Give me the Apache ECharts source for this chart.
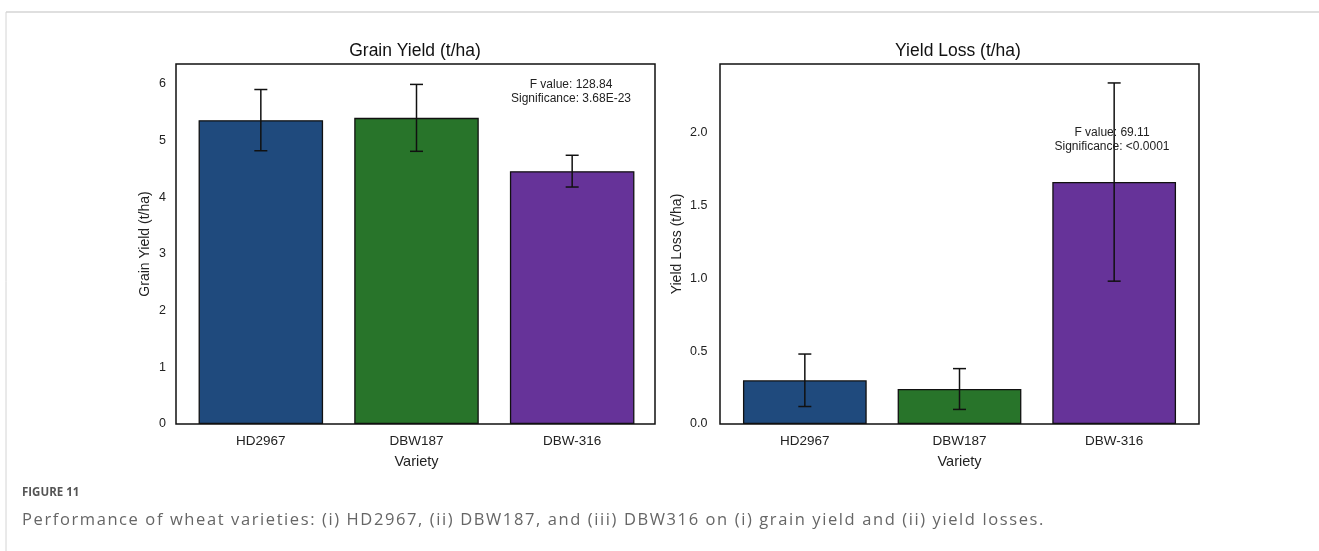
<!DOCTYPE html>
<html>
<head>
<meta charset="utf-8">
<title>Wheat varieties: grain yield and yield loss</title>
<script src="https://cdn.jsdelivr.net/npm/echarts@6/dist/echarts.min.js"></script>
<style>
  html, body { margin: 0; padding: 0; background: #fff; }
  #wrap { position: relative; width: 1319px; height: 551px; overflow: hidden; }
  #chart { position: absolute; left: 0; top: 0; width: 1319px; height: 551px; }
  .fig-label {
    position: absolute; left: 22px; top: 484px;
    font-family: "Open Sans", "Noto Sans", sans-serif;
    font-size: 11.5px; font-weight: bold; color: #555; line-height: 16px;
    white-space: nowrap;
  }
  .fig-caption {
    position: absolute; left: 22px; top: 508px;
    font-family: "Open Sans", "Noto Sans", sans-serif;
    font-size: 16.5px; color: #666; line-height: 22px;
    letter-spacing: 1.6px; white-space: nowrap;
  }
</style>
</head>
<body>
<div id="wrap">
  <div id="chart"></div>
  <div class="fig-label">FIGURE 11</div>
  <div class="fig-caption">Performance of wheat varieties: (i) HD2967, (ii) DBW187, and (iii) DBW316 on (i) grain yield and (ii) yield losses.</div>
</div>
<script>
// Varieties and measured values (mean with ± error)
const varieties = ['HD2967', 'DBW187', 'DBW-316'];
const grainYield = [5.36, 5.40, 4.46];
const grainYieldErr = [0.54, 0.59, 0.28];
const yieldLoss = [0.30, 0.24, 1.66];
const yieldLossErr = [0.18, 0.14, 0.68];
const barColors = ['#1f4a7d', '#28742a', '#663399'];

const grainStats = ['F value: 128.84', 'Significance: 3.68E-23'];
const lossStats = ['F value: 69.11', 'Significance: <0.0001'];

const FONT = '"Liberation Sans", Arial, sans-serif';

// Panel frames (axes boxes) and the inner category band of each panel
const panels = [
  { box: [176, 64, 479, 360], band: { left: 183, width: 467 } },
  { box: [720, 64, 479, 360], band: { left: 727.5, width: 464 } }
];

const chart = echarts.init(document.getElementById('chart'), null, { renderer: 'canvas' });

function barData(values) {
  return values.map((v, i) => ({
    value: v,
    itemStyle: { color: barColors[i], borderColor: '#111', borderWidth: 1.3 }
  }));
}

function errorData(values, errs) {
  return values.map((v, i) => [i, v - errs[i], v + errs[i]]);
}

function renderErrorBar(params, api) {
  const x = api.value(0);
  const top = api.coord([x, api.value(2)]);
  const bottom = api.coord([x, api.value(1)]);
  const half = 6.5;
  const style = { stroke: '#111', lineWidth: 1.5 };
  return {
    type: 'group',
    children: [
      { type: 'line', shape: { x1: top[0], y1: top[1], x2: bottom[0], y2: bottom[1] }, style },
      { type: 'line', shape: { x1: top[0] - half, y1: top[1], x2: top[0] + half, y2: top[1] }, style },
      { type: 'line', shape: { x1: bottom[0] - half, y1: bottom[1], x2: bottom[0] + half, y2: bottom[1] }, style }
    ]
  };
}

function categoryAxis(gridIndex) {
  return {
    type: 'category',
    gridIndex,
    data: varieties,
    name: 'Variety',
    nameLocation: 'middle',
    nameGap: 30,
    nameTextStyle: { fontFamily: FONT, fontSize: 14.5, color: '#222' },
    axisLine: { show: false },
    axisTick: { show: false },
    axisLabel: { fontFamily: FONT, fontSize: 13.5, color: '#222', margin: 10 }
  };
}

function valueAxis(gridIndex, name, max, interval, decimals, labelMargin, nameGap) {
  return {
    type: 'value',
    gridIndex,
    min: 0,
    max,
    interval,
    name,
    nameLocation: 'middle',
    nameGap,
    nameTextStyle: { fontFamily: FONT, fontSize: 14, color: '#222' },
    splitLine: { show: false },
    axisLine: { show: false },
    axisTick: { show: false },
    axisLabel: {
      fontFamily: FONT, fontSize: 12.5, color: '#222', margin: labelMargin,
      showMaxLabel: false,
      formatter: v => v.toFixed(decimals)
    }
  };
}

function centeredText(text, cx, y, size, color) {
  return {
    type: 'text',
    x: cx,
    y,
    z: 10,
    style: {
      text,
      textAlign: 'center',
      textVerticalAlign: 'top',
      fontFamily: FONT, fontSize: size, fill: color
    }
  };
}

function statsText(lines, cx, y) {
  return lines.map((t, i) => centeredText(t, cx, y + i * 14, 12, '#222'));
}

function frameRect(box) {
  return {
    type: 'rect',
    z: 20,
    shape: { x: box[0], y: box[1], width: box[2], height: box[3] },
    style: { fill: 'none', stroke: '#111', lineWidth: 1.5 }
  };
}

const option = {
  animation: false,
  backgroundColor: '#fff',
  grid: panels.map(p => ({ left: p.band.left, top: 64, width: p.band.width, height: 360 })),
  xAxis: [categoryAxis(0), categoryAxis(1)],
  yAxis: [
    valueAxis(0, 'Grain Yield (t/ha)', 6.35, 1, 0, 17, 31),
    valueAxis(1, 'Yield Loss (t/ha)', 2.47, 0.5, 1, 20, 43)
  ],
  series: [
    {
      type: 'bar', xAxisIndex: 0, yAxisIndex: 0,
      data: barData(grainYield), barCategoryGap: '20%'
    },
    {
      type: 'custom', xAxisIndex: 0, yAxisIndex: 0,
      renderItem: renderErrorBar,
      encode: { x: 0, y: [1, 2] },
      data: errorData(grainYield, grainYieldErr), z: 5
    },
    {
      type: 'bar', xAxisIndex: 1, yAxisIndex: 1,
      data: barData(yieldLoss), barCategoryGap: '20%'
    },
    {
      type: 'custom', xAxisIndex: 1, yAxisIndex: 1,
      renderItem: renderErrorBar,
      encode: { x: 0, y: [1, 2] },
      data: errorData(yieldLoss, yieldLossErr), z: 5
    }
  ],
  graphic: [
    // page frame
    { type: 'line', shape: { x1: 6, y1: 12, x2: 1319, y2: 12 }, style: { stroke: '#d4d4d4', lineWidth: 1.5 } },
    { type: 'line', shape: { x1: 6, y1: 12, x2: 6, y2: 551 }, style: { stroke: '#d4d4d4', lineWidth: 1 } },
    frameRect(panels[0].box),
    frameRect(panels[1].box),
    centeredText('Grain Yield (t/ha)', 415, 42, 17.5, '#111'),
    centeredText('Yield Loss (t/ha)', 958, 42, 17.5, '#111'),
    ...statsText(grainStats, 571, 78.5),
    ...statsText(lossStats, 1112, 126.5)
  ]
};

chart.setOption(option);
</script>
</body>
</html>
